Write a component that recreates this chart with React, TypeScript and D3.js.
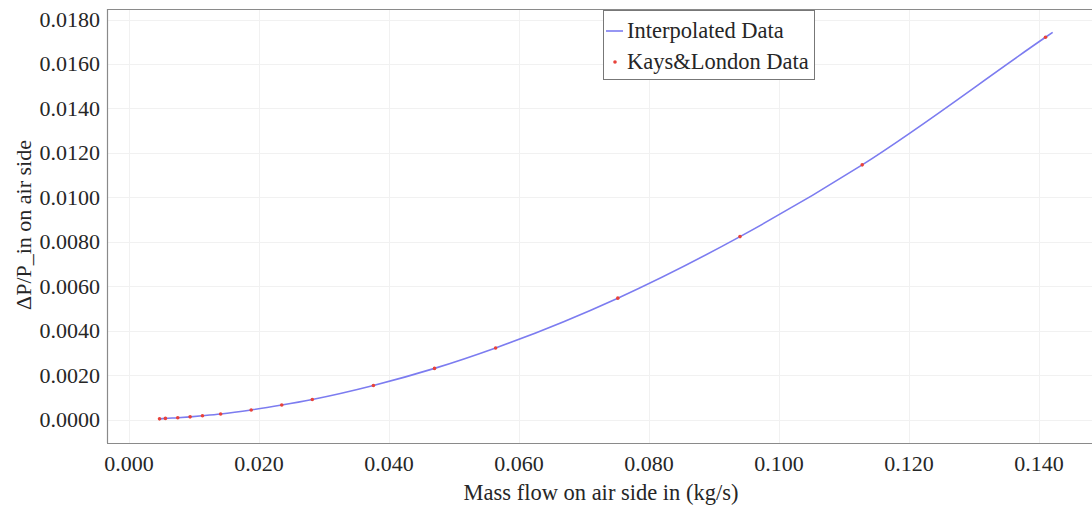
import React from "react";
import * as d3 from "d3";

// Mass flow on the air side (kg/s) and the measured pressure drop ratio
const massFlow = [0.0047, 0.0056, 0.0075, 0.0094, 0.0113, 0.0141, 0.0188, 0.0235, 0.0282, 0.0376, 0.047, 0.0564, 0.0752, 0.094, 0.1128, 0.141];
const pressureRatio = [0.00003, 0.00005, 0.00008, 0.00012, 0.00017, 0.00025, 0.00043, 0.00065, 0.0009, 0.00153, 0.0023, 0.00322, 0.00546, 0.00823, 0.01146, 0.0172];

// Interpolated curve continues slightly past the last measurement
const curveEndFlow = 0.1421;
const curveEndRatio = 0.01742;

const xTicks = [0, 0.02, 0.04, 0.06, 0.08, 0.1, 0.12, 0.14];
const yTicks = [0, 0.002, 0.004, 0.006, 0.008, 0.01, 0.012, 0.014, 0.016, 0.018];

const W = 1092;
const H = 511;
const plot = { left: 107, top: 9, right: 1092, bottom: 443 };
const FONT = "Liberation Serif";
const TEXT = "#262626";

export default function App() {
  const x = d3.scaleLinear().domain([0, 0.14]).range([129, 1039]);
  const y = d3.scaleLinear().domain([0, 0.018]).range([419.5, 19.5]);

  const linePts: [number, number][] = massFlow.map((m, i) => [m, pressureRatio[i]]);
  linePts.push([curveEndFlow, curveEndRatio]);
  const line = d3
    .line<[number, number]>()
    .x((d) => x(d[0]))
    .y((d) => y(d[1]))
    .curve(d3.curveMonotoneX);

  return (
    <svg width={W} height={H} style={{ position: "absolute", left: 0, top: 0, background: "#fff" }}>
      <rect x={0} y={0} width={W} height={H} fill="#fff" />
      {/* grid */}
      <g stroke="#f1f1f1" strokeWidth={1}>
        {xTicks.map((t) => (
          <line key={"gx" + t} x1={Math.round(x(t)) + 0.5} x2={Math.round(x(t)) + 0.5} y1={plot.top} y2={plot.bottom} />
        ))}
        {yTicks.map((t) => (
          <line key={"gy" + t} x1={plot.left} x2={plot.right} y1={Math.round(y(t)) + 0.5} y2={Math.round(y(t)) + 0.5} />
        ))}
      </g>
      {/* frame */}
      <g stroke="#8a8a8a" strokeWidth={1.2} fill="none">
        <line x1={plot.left} x2={plot.right} y1={plot.top + 0.5} y2={plot.top + 0.5} />
        <line x1={plot.left} x2={plot.right} y1={plot.bottom + 0.5} y2={plot.bottom + 0.5} />
        <line x1={plot.left + 0.5} x2={plot.left + 0.5} y1={plot.top} y2={plot.bottom} />
      </g>
      {/* interpolated curve */}
      <path d={line(linePts) || ""} fill="none" stroke="#7c7cf0" strokeWidth={1.6} />
      {/* measured points */}
      <g fill="#e8423a">
        {massFlow.map((m, i) => (
          <circle key={"p" + i} cx={x(m)} cy={y(pressureRatio[i])} r={1.8} />
        ))}
      </g>
      {/* tick labels */}
      <g fontFamily={FONT} fontSize={22} fill={TEXT}>
        {xTicks.map((t) => (
          <text key={"tx" + t} x={x(t)} y={471} textAnchor="middle">
            {d3.format(".3f")(t)}
          </text>
        ))}
        {yTicks.map((t) => (
          <text key={"ty" + t} x={100} y={y(t) + 7.5} textAnchor="end">
            {d3.format(".4f")(t)}
          </text>
        ))}
      </g>
      {/* axis titles */}
      <text x={601} y={500} textAnchor="middle" fontFamily={FONT} fontSize={22.5} fill={TEXT}>
        Mass flow on air side in (kg/s)
      </text>
      <text
        transform="translate(31,225) rotate(-90)"
        textAnchor="middle"
        fontFamily={FONT}
        fontSize={22}
        fill={TEXT}
      >
        ΔP/P_in on air side
      </text>
      {/* legend */}
      <g fontFamily={FONT} fontSize={22.5} fill={TEXT}>
        <rect x={603.5} y={10.5} width={211} height={69} fill="#fff" stroke="#777" strokeWidth={1} />
        <line x1={606} x2={623} y1={31} y2={31} stroke="#7c7cf0" strokeWidth={1.6} />
        <text x={627} y={38}>Interpolated Data</text>
        <circle cx={615} cy={62} r={1.8} fill="#e8423a" />
        <text x={627} y={69}>Kays&amp;London Data</text>
      </g>
    </svg>
  );
}
